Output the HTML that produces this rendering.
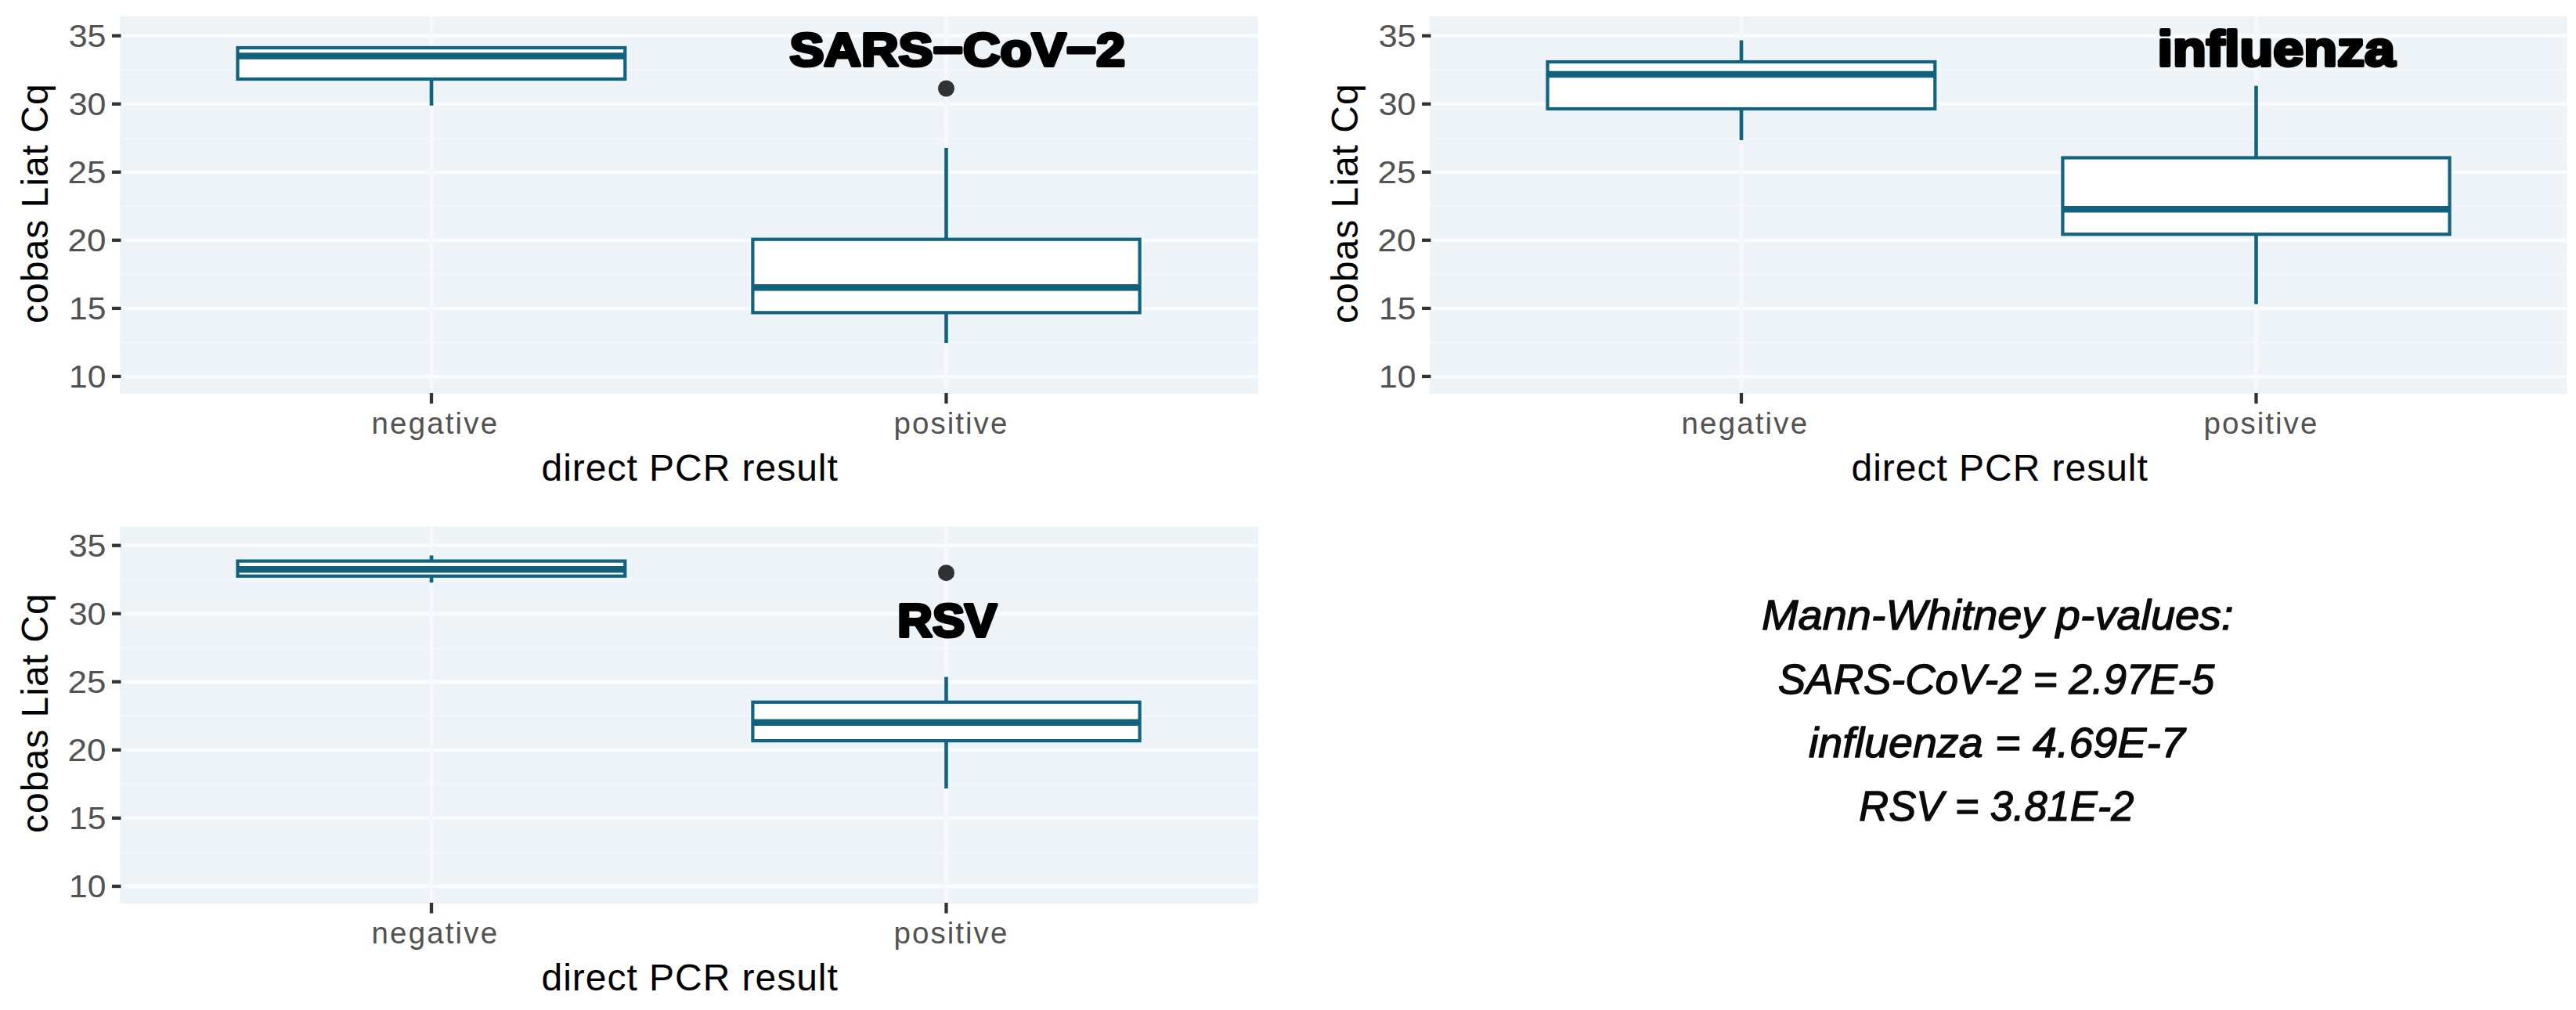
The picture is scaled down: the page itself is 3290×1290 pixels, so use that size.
<!DOCTYPE html>
<html><head><meta charset="utf-8"><title>cobas Liat Cq vs direct PCR result</title>
<style>
html,body{margin:0;padding:0;background:#fff;}
body{width:3290px;height:1290px;overflow:hidden;}
svg{display:block;}
text{font-family:"Liberation Sans",Arial,sans-serif;font-variant-ligatures:none;font-feature-settings:"liga" 0;}
</style></head>
<body>
<svg width="3290" height="1290" viewBox="0 0 3290 1290">
<rect width="3290" height="1290" fill="#FFFFFF"/>
<rect x="153" y="21" width="1454" height="482" fill="#EEF3F8"/>
<line x1="153" x2="1607" y1="437.4" y2="437.4" stroke="#F3F7FA" stroke-width="2.2"/>
<line x1="153" x2="1607" y1="350.4" y2="350.4" stroke="#F3F7FA" stroke-width="2.2"/>
<line x1="153" x2="1607" y1="263.3" y2="263.3" stroke="#F3F7FA" stroke-width="2.2"/>
<line x1="153" x2="1607" y1="176.3" y2="176.3" stroke="#F3F7FA" stroke-width="2.2"/>
<line x1="153" x2="1607" y1="89.2" y2="89.2" stroke="#F3F7FA" stroke-width="2.2"/>
<line x1="153" x2="1607" y1="480.9" y2="480.9" stroke="#F9FBFC" stroke-width="4.8"/>
<line x1="153" x2="1607" y1="393.9" y2="393.9" stroke="#F9FBFC" stroke-width="4.8"/>
<line x1="153" x2="1607" y1="306.8" y2="306.8" stroke="#F9FBFC" stroke-width="4.8"/>
<line x1="153" x2="1607" y1="219.8" y2="219.8" stroke="#F9FBFC" stroke-width="4.8"/>
<line x1="153" x2="1607" y1="132.8" y2="132.8" stroke="#F9FBFC" stroke-width="4.8"/>
<line x1="153" x2="1607" y1="45.7" y2="45.7" stroke="#F9FBFC" stroke-width="4.8"/>
<line x1="551" x2="551" y1="21" y2="503" stroke="#F6F9FB" stroke-width="4.6"/>
<line x1="1208.5" x2="1208.5" y1="21" y2="503" stroke="#F6F9FB" stroke-width="4.6"/>
<line x1="551" x2="551" y1="101.0" y2="134.8" stroke="#12637F" stroke-width="4.6"/>
<rect x="303.5" y="61.0" width="494.79999999999995" height="40.0" fill="#FFFFFF" stroke="#12637F" stroke-width="4.2"/>
<line x1="303.5" x2="798.3" y1="71.4" y2="71.4" stroke="#10617C" stroke-width="8.5"/>
<line x1="1208.5" x2="1208.5" y1="189.0" y2="305.7" stroke="#12637F" stroke-width="4.6"/>
<line x1="1208.5" x2="1208.5" y1="399.3" y2="438.0" stroke="#12637F" stroke-width="4.6"/>
<rect x="961.4" y="305.7" width="494.19999999999993" height="93.60000000000002" fill="#FFFFFF" stroke="#12637F" stroke-width="4.2"/>
<line x1="961.4" x2="1455.6" y1="367.3" y2="367.3" stroke="#10617C" stroke-width="8.5"/>
<circle cx="1208.5" cy="113.0" r="10.5" fill="#2F3336"/>
<line x1="143" x2="154.5" y1="480.9" y2="480.9" stroke="#333333" stroke-width="4.3"/>
<line x1="143" x2="154.5" y1="393.9" y2="393.9" stroke="#333333" stroke-width="4.3"/>
<line x1="143" x2="154.5" y1="306.8" y2="306.8" stroke="#333333" stroke-width="4.3"/>
<line x1="143" x2="154.5" y1="219.8" y2="219.8" stroke="#333333" stroke-width="4.3"/>
<line x1="143" x2="154.5" y1="132.8" y2="132.8" stroke="#333333" stroke-width="4.3"/>
<line x1="143" x2="154.5" y1="45.7" y2="45.7" stroke="#333333" stroke-width="4.3"/>
<line x1="551" x2="551" y1="502" y2="515.5" stroke="#333333" stroke-width="4.3"/>
<line x1="1208.5" x2="1208.5" y1="502" y2="515.5" stroke="#333333" stroke-width="4.3"/>
<rect x="1826" y="21" width="1452.5" height="482" fill="#EEF3F8"/>
<line x1="1826" x2="3278.5" y1="437.4" y2="437.4" stroke="#F3F7FA" stroke-width="2.2"/>
<line x1="1826" x2="3278.5" y1="350.4" y2="350.4" stroke="#F3F7FA" stroke-width="2.2"/>
<line x1="1826" x2="3278.5" y1="263.3" y2="263.3" stroke="#F3F7FA" stroke-width="2.2"/>
<line x1="1826" x2="3278.5" y1="176.3" y2="176.3" stroke="#F3F7FA" stroke-width="2.2"/>
<line x1="1826" x2="3278.5" y1="89.2" y2="89.2" stroke="#F3F7FA" stroke-width="2.2"/>
<line x1="1826" x2="3278.5" y1="480.9" y2="480.9" stroke="#F9FBFC" stroke-width="4.8"/>
<line x1="1826" x2="3278.5" y1="393.9" y2="393.9" stroke="#F9FBFC" stroke-width="4.8"/>
<line x1="1826" x2="3278.5" y1="306.8" y2="306.8" stroke="#F9FBFC" stroke-width="4.8"/>
<line x1="1826" x2="3278.5" y1="219.8" y2="219.8" stroke="#F9FBFC" stroke-width="4.8"/>
<line x1="1826" x2="3278.5" y1="132.8" y2="132.8" stroke="#F9FBFC" stroke-width="4.8"/>
<line x1="1826" x2="3278.5" y1="45.7" y2="45.7" stroke="#F9FBFC" stroke-width="4.8"/>
<line x1="2224" x2="2224" y1="21" y2="503" stroke="#F6F9FB" stroke-width="4.6"/>
<line x1="2881.5" x2="2881.5" y1="21" y2="503" stroke="#F6F9FB" stroke-width="4.6"/>
<line x1="2224" x2="2224" y1="51.5" y2="79.0" stroke="#12637F" stroke-width="4.6"/>
<line x1="2224" x2="2224" y1="139.0" y2="179.0" stroke="#12637F" stroke-width="4.6"/>
<rect x="1976.5" y="79.0" width="494.8000000000002" height="60.0" fill="#FFFFFF" stroke="#12637F" stroke-width="4.2"/>
<line x1="1976.5" x2="2471.3" y1="95.0" y2="95.0" stroke="#10617C" stroke-width="8.5"/>
<line x1="2881.5" x2="2881.5" y1="109.6" y2="201.5" stroke="#12637F" stroke-width="4.6"/>
<line x1="2881.5" x2="2881.5" y1="299.2" y2="388.4" stroke="#12637F" stroke-width="4.6"/>
<rect x="2634.4" y="201.5" width="494.1999999999998" height="97.69999999999999" fill="#FFFFFF" stroke="#12637F" stroke-width="4.2"/>
<line x1="2634.4" x2="3128.6" y1="267.2" y2="267.2" stroke="#10617C" stroke-width="8.5"/>
<line x1="1816" x2="1827.5" y1="480.9" y2="480.9" stroke="#333333" stroke-width="4.3"/>
<line x1="1816" x2="1827.5" y1="393.9" y2="393.9" stroke="#333333" stroke-width="4.3"/>
<line x1="1816" x2="1827.5" y1="306.8" y2="306.8" stroke="#333333" stroke-width="4.3"/>
<line x1="1816" x2="1827.5" y1="219.8" y2="219.8" stroke="#333333" stroke-width="4.3"/>
<line x1="1816" x2="1827.5" y1="132.8" y2="132.8" stroke="#333333" stroke-width="4.3"/>
<line x1="1816" x2="1827.5" y1="45.7" y2="45.7" stroke="#333333" stroke-width="4.3"/>
<line x1="2224" x2="2224" y1="502" y2="515.5" stroke="#333333" stroke-width="4.3"/>
<line x1="2881.5" x2="2881.5" y1="502" y2="515.5" stroke="#333333" stroke-width="4.3"/>
<rect x="153" y="673" width="1454" height="481" fill="#EEF3F8"/>
<line x1="153" x2="1607" y1="1088.4" y2="1088.4" stroke="#F3F7FA" stroke-width="2.2"/>
<line x1="153" x2="1607" y1="1001.4" y2="1001.4" stroke="#F3F7FA" stroke-width="2.2"/>
<line x1="153" x2="1607" y1="914.3" y2="914.3" stroke="#F3F7FA" stroke-width="2.2"/>
<line x1="153" x2="1607" y1="827.3" y2="827.3" stroke="#F3F7FA" stroke-width="2.2"/>
<line x1="153" x2="1607" y1="740.2" y2="740.2" stroke="#F3F7FA" stroke-width="2.2"/>
<line x1="153" x2="1607" y1="1132.0" y2="1132.0" stroke="#F9FBFC" stroke-width="4.8"/>
<line x1="153" x2="1607" y1="1044.9" y2="1044.9" stroke="#F9FBFC" stroke-width="4.8"/>
<line x1="153" x2="1607" y1="957.8" y2="957.8" stroke="#F9FBFC" stroke-width="4.8"/>
<line x1="153" x2="1607" y1="870.8" y2="870.8" stroke="#F9FBFC" stroke-width="4.8"/>
<line x1="153" x2="1607" y1="783.8" y2="783.8" stroke="#F9FBFC" stroke-width="4.8"/>
<line x1="153" x2="1607" y1="696.7" y2="696.7" stroke="#F9FBFC" stroke-width="4.8"/>
<line x1="551" x2="551" y1="673" y2="1154" stroke="#F6F9FB" stroke-width="4.6"/>
<line x1="1208.5" x2="1208.5" y1="673" y2="1154" stroke="#F6F9FB" stroke-width="4.6"/>
<line x1="551" x2="551" y1="709.4" y2="716.6" stroke="#12637F" stroke-width="4.6"/>
<line x1="551" x2="551" y1="735.8" y2="744.1" stroke="#12637F" stroke-width="4.6"/>
<rect x="303.5" y="716.6" width="494.79999999999995" height="19.199999999999932" fill="#FFFFFF" stroke="#12637F" stroke-width="4.2"/>
<line x1="303.5" x2="798.3" y1="727.3" y2="727.3" stroke="#10617C" stroke-width="8.5"/>
<line x1="1208.5" x2="1208.5" y1="864.6" y2="896.8" stroke="#12637F" stroke-width="4.6"/>
<line x1="1208.5" x2="1208.5" y1="946.1" y2="1007.0" stroke="#12637F" stroke-width="4.6"/>
<rect x="961.4" y="896.8" width="494.19999999999993" height="49.30000000000007" fill="#FFFFFF" stroke="#12637F" stroke-width="4.2"/>
<line x1="961.4" x2="1455.6" y1="922.8" y2="922.8" stroke="#10617C" stroke-width="8.5"/>
<circle cx="1208.5" cy="731.7" r="10.5" fill="#2F3336"/>
<line x1="143" x2="154.5" y1="1132.0" y2="1132.0" stroke="#333333" stroke-width="4.3"/>
<line x1="143" x2="154.5" y1="1044.9" y2="1044.9" stroke="#333333" stroke-width="4.3"/>
<line x1="143" x2="154.5" y1="957.8" y2="957.8" stroke="#333333" stroke-width="4.3"/>
<line x1="143" x2="154.5" y1="870.8" y2="870.8" stroke="#333333" stroke-width="4.3"/>
<line x1="143" x2="154.5" y1="783.8" y2="783.8" stroke="#333333" stroke-width="4.3"/>
<line x1="143" x2="154.5" y1="696.7" y2="696.7" stroke="#333333" stroke-width="4.3"/>
<line x1="551" x2="551" y1="1153" y2="1166.5" stroke="#333333" stroke-width="4.3"/>
<line x1="1208.5" x2="1208.5" y1="1153" y2="1166.5" stroke="#333333" stroke-width="4.3"/>
<text x="88.10" y="495.45" font-size="40" font-weight="normal" font-style="normal" fill="#525252" textLength="47.43" lengthAdjust="spacingAndGlyphs">10</text>
<text x="88.10" y="408.40" font-size="40" font-weight="normal" font-style="normal" fill="#525252" textLength="47.43" lengthAdjust="spacingAndGlyphs">15</text>
<text x="86.60" y="321.35" font-size="40" font-weight="normal" font-style="normal" fill="#525252" textLength="48.97" lengthAdjust="spacingAndGlyphs">20</text>
<text x="86.60" y="234.30" font-size="40" font-weight="normal" font-style="normal" fill="#525252" textLength="48.97" lengthAdjust="spacingAndGlyphs">25</text>
<text x="87.73" y="147.25" font-size="40" font-weight="normal" font-style="normal" fill="#525252" textLength="47.81" lengthAdjust="spacingAndGlyphs">30</text>
<text x="87.73" y="60.20" font-size="40" font-weight="normal" font-style="normal" fill="#525252" textLength="47.81" lengthAdjust="spacingAndGlyphs">35</text>
<text x="474.50" y="554.30" font-size="38.5" font-weight="normal" font-style="normal" fill="#525252" textLength="160.61" lengthAdjust="spacing">negative</text>
<text x="1141.60" y="553.70" font-size="38.5" font-weight="normal" font-style="normal" fill="#525252" textLength="144.71" lengthAdjust="spacing">positive</text>
<text x="691.50" y="613.80" font-size="48" font-weight="normal" font-style="normal" fill="#000" textLength="378.34" lengthAdjust="spacing">direct PCR result</text>
<text transform="translate(60.60,413.00) rotate(-90)" x="0" y="0" font-size="48" fill="#000" textLength="305.70" lengthAdjust="spacing">cobas Liat Cq</text>
<text x="1761.10" y="495.45" font-size="40" font-weight="normal" font-style="normal" fill="#525252" textLength="47.43" lengthAdjust="spacingAndGlyphs">10</text>
<text x="1761.10" y="408.40" font-size="40" font-weight="normal" font-style="normal" fill="#525252" textLength="47.43" lengthAdjust="spacingAndGlyphs">15</text>
<text x="1759.60" y="321.35" font-size="40" font-weight="normal" font-style="normal" fill="#525252" textLength="48.97" lengthAdjust="spacingAndGlyphs">20</text>
<text x="1759.60" y="234.30" font-size="40" font-weight="normal" font-style="normal" fill="#525252" textLength="48.97" lengthAdjust="spacingAndGlyphs">25</text>
<text x="1760.73" y="147.25" font-size="40" font-weight="normal" font-style="normal" fill="#525252" textLength="47.81" lengthAdjust="spacingAndGlyphs">30</text>
<text x="1760.73" y="60.20" font-size="40" font-weight="normal" font-style="normal" fill="#525252" textLength="47.81" lengthAdjust="spacingAndGlyphs">35</text>
<text x="2147.50" y="554.30" font-size="38.5" font-weight="normal" font-style="normal" fill="#525252" textLength="160.61" lengthAdjust="spacing">negative</text>
<text x="2814.60" y="553.70" font-size="38.5" font-weight="normal" font-style="normal" fill="#525252" textLength="144.71" lengthAdjust="spacing">positive</text>
<text x="2364.50" y="613.80" font-size="48" font-weight="normal" font-style="normal" fill="#000" textLength="378.34" lengthAdjust="spacing">direct PCR result</text>
<text transform="translate(1733.60,413.00) rotate(-90)" x="0" y="0" font-size="48" fill="#000" textLength="305.70" lengthAdjust="spacing">cobas Liat Cq</text>
<text x="88.10" y="1146.45" font-size="40" font-weight="normal" font-style="normal" fill="#525252" textLength="47.43" lengthAdjust="spacingAndGlyphs">10</text>
<text x="88.10" y="1059.40" font-size="40" font-weight="normal" font-style="normal" fill="#525252" textLength="47.43" lengthAdjust="spacingAndGlyphs">15</text>
<text x="86.60" y="972.35" font-size="40" font-weight="normal" font-style="normal" fill="#525252" textLength="48.97" lengthAdjust="spacingAndGlyphs">20</text>
<text x="86.60" y="885.30" font-size="40" font-weight="normal" font-style="normal" fill="#525252" textLength="48.97" lengthAdjust="spacingAndGlyphs">25</text>
<text x="87.73" y="798.25" font-size="40" font-weight="normal" font-style="normal" fill="#525252" textLength="47.81" lengthAdjust="spacingAndGlyphs">30</text>
<text x="87.73" y="711.20" font-size="40" font-weight="normal" font-style="normal" fill="#525252" textLength="47.81" lengthAdjust="spacingAndGlyphs">35</text>
<text x="474.50" y="1205.30" font-size="38.5" font-weight="normal" font-style="normal" fill="#525252" textLength="160.61" lengthAdjust="spacing">negative</text>
<text x="1141.60" y="1204.70" font-size="38.5" font-weight="normal" font-style="normal" fill="#525252" textLength="144.71" lengthAdjust="spacing">positive</text>
<text x="691.50" y="1264.80" font-size="48" font-weight="normal" font-style="normal" fill="#000" textLength="378.34" lengthAdjust="spacing">direct PCR result</text>
<text transform="translate(60.60,1064.00) rotate(-90)" x="0" y="0" font-size="48" fill="#000" textLength="305.70" lengthAdjust="spacing">cobas Liat Cq</text>
<text x="1008.41" y="83.91" font-size="59.15" font-weight="bold" font-style="normal" fill="#000" textLength="428.46" lengthAdjust="spacingAndGlyphs" stroke="#000" stroke-width="4.0" stroke-linejoin="round" paint-order="stroke">SARS−CoV−2</text>
<text x="2755.49" y="83.76" font-size="63.51" font-weight="bold" font-style="normal" fill="#000" textLength="303.45" lengthAdjust="spacingAndGlyphs" stroke="#000" stroke-width="4.0" stroke-linejoin="round" paint-order="stroke">influenza</text>
<text x="1146.36" y="812.51" font-size="59.15" font-weight="bold" font-style="normal" fill="#000" textLength="126.88" lengthAdjust="spacingAndGlyphs" stroke="#000" stroke-width="4.0" stroke-linejoin="round" paint-order="stroke">RSV</text>
<text x="2250.04" y="804.20" font-size="54.5" font-weight="normal" font-style="italic" fill="#0A0A0A" textLength="602.49" lengthAdjust="spacingAndGlyphs" stroke="#0A0A0A" stroke-width="1.3" stroke-linejoin="round" paint-order="stroke">Mann-Whitney p-values:</text>
<text x="2270.86" y="885.60" font-size="54.5" font-weight="normal" font-style="italic" fill="#0A0A0A" textLength="557.34" lengthAdjust="spacingAndGlyphs" stroke="#0A0A0A" stroke-width="1.3" stroke-linejoin="round" paint-order="stroke">SARS-CoV-2 = 2.97E-5</text>
<text x="2309.96" y="967.30" font-size="54.5" font-weight="normal" font-style="italic" fill="#0A0A0A" textLength="480.85" lengthAdjust="spacingAndGlyphs" stroke="#0A0A0A" stroke-width="1.3" stroke-linejoin="round" paint-order="stroke">influenza = 4.69E-7</text>
<text x="2374.36" y="1048.10" font-size="54.5" font-weight="normal" font-style="italic" fill="#0A0A0A" textLength="350.91" lengthAdjust="spacingAndGlyphs" stroke="#0A0A0A" stroke-width="1.3" stroke-linejoin="round" paint-order="stroke">RSV = 3.81E-2</text>
</svg>
</body></html>
